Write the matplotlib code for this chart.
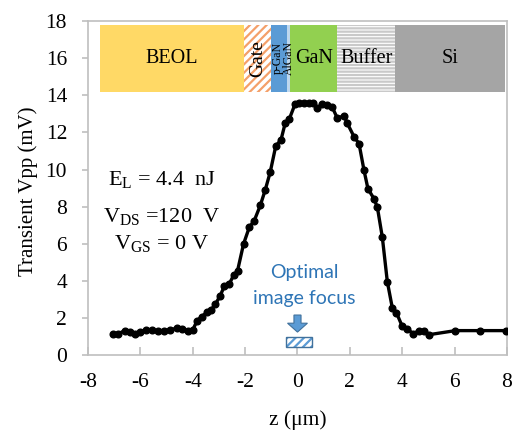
import matplotlib
matplotlib.use("Agg")
import matplotlib.pyplot as plt
from matplotlib.patches import Rectangle, FancyArrow

serif = 'Liberation Serif'
plt.rcParams['hatch.linewidth'] = 1.6
plt.rcParams['mathtext.fontset'] = 'custom'
plt.rcParams['mathtext.rm'] = serif
plt.rcParams['mathtext.it'] = serif + ':italic'

z = [-7.05, -6.85, -6.6, -6.41, -6.22, -6.0, -5.78, -5.55, -5.33, -5.08, -4.85, -4.6, -4.4,
     -4.19, -4.0, -3.83, -3.66, -3.45, -3.3, -3.14, -2.96, -2.79, -2.6, -2.44, -2.29, -2.06,
     -1.84, -1.65, -1.42, -1.23, -1.04, -0.83, -0.63, -0.47, -0.32, -0.09, 0.06, 0.25, 0.44,
     0.61, 0.76, 0.95, 1.14, 1.33, 1.52, 1.78, 1.9, 2.16, 2.35, 2.54, 2.69, 2.92, 3.05, 3.24,
     3.43, 3.62, 3.78, 4.0, 4.19, 4.42, 4.63, 4.83, 5.02, 6.03, 6.98, 7.97]
vpp = [1.14, 1.14, 1.32, 1.25, 1.14, 1.25, 1.36, 1.36, 1.28, 1.32, 1.36, 1.46, 1.43,
       1.32, 1.36, 1.86, 2.08, 2.31, 2.44, 2.73, 3.18, 3.72, 3.85, 4.3, 4.54, 5.99,
       6.89, 7.25, 8.07, 8.91, 9.87, 11.27, 11.6, 12.5, 12.7, 13.54, 13.6, 13.6, 13.6,
       13.58, 13.3, 13.54, 13.47, 13.36, 12.77, 12.9, 12.5, 11.77, 11.4, 9.96, 8.97, 8.43, 7.97, 6.35,
       3.96, 2.55, 2.28, 1.55, 1.43, 1.14, 1.32, 1.32, 1.1, 1.32, 1.32, 1.32]

layer_names = ["BEOL", "Gate", "p-GaN", "AlGaN", "GaN", "Buffer", "Si"]
layer_edges = [-7.56, -2.06, -1.0, -0.39, -0.27, 1.51, 3.74, 7.94]
layer_y = (14.2, 17.8)

xticks = list(range(-8, 9, 2))
yticks = list(range(0, 19, 2))

fig = plt.figure(figsize=(5.13, 4.32), dpi=100)
ax = fig.add_axes([0.1715, 0.178, 0.8168, 0.773])
ax.set_xlim(-8, 8)
ax.set_ylim(0, 18)

gray = '#BFBFBF'
for s in ax.spines.values():
    s.set_color(gray)
    s.set_linewidth(1.2)

ax.set_xticks(xticks)
ax.set_yticks(yticks)
ax.set_xticklabels([str(t) for t in xticks], fontfamily=serif, fontsize=15.5)
ax.set_yticklabels([str(t) for t in yticks], fontfamily=serif, fontsize=15.5)
ax.tick_params(axis='x', direction='in', length=6, color=gray, width=1.2, pad=13)
ax.tick_params(axis='y', direction='out', length=4, color=gray, width=1.2, pad=11)
ax.set_xlabel('z (μm)', fontfamily=serif, fontsize=15.5, va='center')
ax.xaxis.set_label_coords(0.5, -0.195)
ax.set_ylabel('Transient Vpp (mV)', fontfamily=serif, fontsize=15, va='center')
ax.yaxis.set_label_coords(-0.143, 0.49)

# layer bar
fills = {
    "BEOL": dict(facecolor='#FFD966', hatch=None, edgecolor='none'),
    "Gate": dict(facecolor='white', hatch='////', edgecolor='#F4A06A'),
    "p-GaN": dict(facecolor='#5B9BD5', hatch=None, edgecolor='none'),
    "AlGaN": dict(facecolor='#BDD7EE', hatch=None, edgecolor='none'),
    "GaN": dict(facecolor='#92D050', hatch=None, edgecolor='none'),
    "Buffer": dict(facecolor='white', hatch='-----', edgecolor='#C9C9C9'),
    "Si": dict(facecolor='#A5A5A5', hatch=None, edgecolor='none'),
}
y0, y1 = layer_y
cy = (y0 + y1) / 2
for i, name in enumerate(layer_names):
    a, b = layer_edges[i], layer_edges[i + 1]
    f = fills[name]
    ax.add_patch(Rectangle((a, y0), b - a, y1 - y0, facecolor=f['facecolor'], hatch=f['hatch'],
                           edgecolor=f['edgecolor'], linewidth=0, zorder=2))
    cx = (a + b) / 2
    if name == "Gate":
        ax.text(cx, cy, name, rotation=90, ha='center', va='center', fontfamily=serif,
                fontsize=14, zorder=3)
    elif name == "p-GaN":
        ax.text(-0.77, cy, name, rotation=90, ha='center', va='center', fontfamily=serif,
                fontsize=8.5, zorder=3)
    elif name == "AlGaN":
        ax.text(-0.33, cy, name, rotation=90, ha='center', va='center', fontfamily=serif,
                fontsize=8.5, zorder=3)
    else:
        ax.text(cx, cy, name, ha='center', va='center', fontfamily=serif, fontsize=14.5, zorder=3)

# data
ax.plot(z, vpp, color='black', linewidth=2.4, marker='o', markersize=4.8, zorder=4)

# conditions text
cond_x = -5.18
ax.text(cond_x, 9.16, r'E$_\mathregular{L}$ = 4.4  nJ', ha='center', va='baseline',
        fontfamily=serif, fontsize=16)
ax.text(cond_x, 7.19, r'V$_\mathregular{DS}$ =120  V', ha='center', va='baseline',
        fontfamily=serif, fontsize=16)
ax.text(cond_x, 5.70, r'V$_\mathregular{GS}$ = 0 V', ha='center', va='baseline',
        fontfamily=serif, fontsize=16)

blue = '#2E75B6'
ax.text(0.25, 4.44, 'Optimal', ha='center', va='center', fontfamily='Lato', fontsize=14, color=blue)
ax.text(0.25, 3.07, 'image focus', ha='center', va='center', fontfamily='Lato', fontsize=14, color=blue)
ax.add_patch(FancyArrow(0.0, 2.16, 0, -0.92, width=0.27, head_width=0.76, head_length=0.48,
                        length_includes_head=True, facecolor='#5B9BD5', edgecolor='#41719C',
                        linewidth=0.8, zorder=3))
ax.add_patch(Rectangle((-0.42, 0.43), 0.99, 0.52, facecolor='white', hatch='////',
                       edgecolor='#5B9BD5', linewidth=0, zorder=3))
ax.add_patch(Rectangle((-0.42, 0.43), 0.99, 0.52, facecolor='none',
                       edgecolor='#41719C', linewidth=1.0, zorder=3))

fig.savefig('out.png', dpi=100)
